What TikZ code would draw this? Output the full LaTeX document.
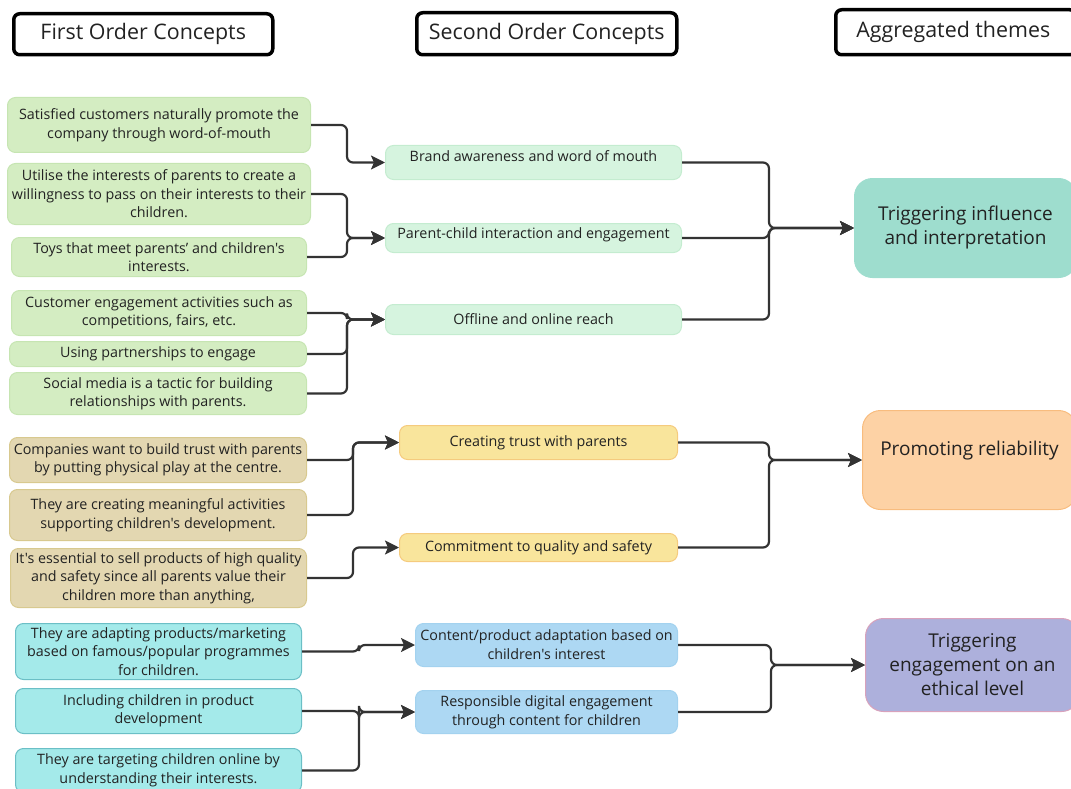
\documentclass[tikz,border=0pt]{standalone}
\usepackage{fontspec}
\setmainfont{Open Sans}[Ligatures=TeXOff]
\usetikzlibrary{arrows.meta}
\definecolor{txt}{HTML}{222222}
\definecolor{lc}{HTML}{333333}
\definecolor{gF}{HTML}{D4EDC2}\definecolor{gD}{HTML}{C6E5B2}
\definecolor{mF}{HTML}{D6F4DF}\definecolor{mD}{HTML}{C4ECD0}
\definecolor{t1F}{HTML}{9EDDCE}\definecolor{t1D}{HTML}{9EDDCE}
\definecolor{tnF}{HTML}{E3D7B1}\definecolor{tnD}{HTML}{D8C98F}
\definecolor{yF}{HTML}{F9E59C}\definecolor{yD}{HTML}{F5CB7E}
\definecolor{t2F}{HTML}{FDD2A5}\definecolor{t2D}{HTML}{F8BC7E}
\definecolor{cF}{HTML}{A4EAEA}\definecolor{cD}{HTML}{6BBFC6}
\definecolor{bF}{HTML}{ADD8F3}\definecolor{bD}{HTML}{A3D2EF}
\definecolor{t3F}{HTML}{ADB0DC}\definecolor{t3D}{HTML}{D8A2BC}
\tikzset{
  bx/.style={rounded corners=8pt, align=center, inner sep=0pt, anchor=north west,
    text=txt, line width=1pt, font=\fontsize{14.3}{18.5}\selectfont},
  fo/.style={bx, fill=gF, draw=gD},
  so/.style={bx, fill=mF, draw=mD},
  tn/.style={bx, fill=tnF, draw=tnD},
  yo/.style={bx, fill=yF, draw=yD},
  cy/.style={bx, fill=cF, draw=cD},
  bl/.style={bx, fill=bF, draw=bD, font=\fontsize{14.3}{19}\selectfont},
  th/.style={bx, rounded corners=18pt, font=\fontsize{19}{24}\selectfont},
  hd/.style={rounded corners=6pt, draw=black, fill=white, line width=3.5pt,
    anchor=north west, inner sep=0pt, text=txt, font=\fontsize{21.4}{25}\selectfont},
  conn/.style={draw=lc, line width=2.2pt, rounded corners=6pt,
    -{Stealth[length=14pt,width=14pt,inset=3pt]}}
}
\begin{document}
\begin{tikzpicture}[x=1pt,y=-1pt]
\useasboundingbox (0,0) rectangle (1071,789);
% headers
\node[hd, minimum width=259, minimum height=41] (h1) at (12,12) {First Order Concepts};
\node[hd, minimum width=260, minimum height=42] (h2) at (415,11) {Second Order Concepts};
\node[hd, minimum width=240, minimum height=45] (h3) at (834,8) {\hspace*{-5pt}Aggregated themes};
% group 1
\node[fo, minimum width=303, minimum height=55] (f1) at (7,97) {Satisfied customers naturally promote the\\company through word-of-mouth};
\node[fo, minimum width=303, minimum height=61] (f2) at (7,163) {Utilise the interests of parents to create a\\willingness to pass on their interests to their\\children.};
\node[fo, minimum width=295, minimum height=39] (f3) at (11,237) {Toys that meet parents’ and children's\\interests.};
\node[fo, minimum width=295, minimum height=45] (f4) at (11,290) {Customer engagement activities such as\\competitions, fairs, etc.};
\node[fo, minimum width=297, minimum height=25] (f5) at (9,341) {Using partnerships to engage};
\node[fo, minimum width=297, minimum height=42] (f6) at (9,372) {Social media is a tactic for building\\relationships with parents.};
\node[so, minimum width=296, minimum height=34, text height=10.5pt, text depth=13.5pt] (s1) at (385,145) {Brand awareness and word of mouth};
\node[so, minimum width=296, minimum height=29, text height=10.5pt, text depth=9.5pt] (s2) at (385,223) {Parent-child interaction and engagement};
\node[so, minimum width=296, minimum height=30] (s3) at (385,304) {Offline and online reach};
\node[th, fill=t1F, draw=t1D, minimum width=222, minimum height=99] (t1) at (854,178) {Triggering influence\\and interpretation};
% group 2
\node[tn, minimum width=297, minimum height=45] (c1) at (9,437) {Companies want to build trust with parents\\by putting physical play at the centre.};
\node[tn, minimum width=297, minimum height=51] (c2) at (9,489) {They are creating meaningful activities\\supporting children's development.};
\node[tn, minimum width=296, minimum height=59] (c3) at (10,548) {It's essential to sell products of high quality\\and safety since all parents value their\\children more than anything,};
\node[yo, minimum width=278, minimum height=34] (y1) at (399,425) {Creating trust with parents};
\node[yo, minimum width=278, minimum height=28] (y2) at (399,533) {Commitment to quality and safety};
\node[th, fill=t2F, draw=t2D, minimum width=214, minimum height=99] (t2) at (862,410) {Promoting reliability\\[-1pt]\mbox{}};
% group 3
\node[cy, minimum width=286, minimum height=56] (b1) at (15,623) {They are adapting products/marketing\\based on famous/popular programmes\\for children.};
\node[cy, minimum width=286, minimum height=45] (b2) at (15,688) {Including children in product\\development};
\node[cy, minimum width=286, minimum height=44] (b3) at (15,748) {They are targeting children online by\\understanding their interests.};
\node[bl, minimum width=262, minimum height=43] (d1) at (415,623) {Content/product adaptation based on\\children's interest};
\node[bl, minimum width=262, minimum height=43] (d2) at (415,690) {Responsible digital engagement\\through content for children};
\node[th, fill=t3F, draw=t3D, minimum width=214, minimum height=93] (t3) at (865,618) {Triggering\\engagement on an\\ethical level};
% connectors group 1
\draw[conn] (f1.east) -- ++(36,0) |- (s1.west);
\draw[conn] (f2.east) -- ++(36,0) |- (s2.west);
\draw[conn] (f3.east) -- ++(40,0) |- (s2.west);
\draw[conn] (f4.east) -- ++(40,0) |- (s3.west);
\draw[conn] (f5.east) -- ++(40,0) |- (s3.west);
\draw[conn] (f6.east) -- ++(40,0) |- (s3.west);
\draw[conn] (s1.east) -- ++(87,0) |- (t1.west);
\draw[conn] (s2.east) -- ++(87,0) |- (t1.west);
\draw[conn] (s3.east) -- ++(87,0) |- (t1.west);
% connectors group 2
\draw[conn] (c1.east) -- ++(46,0) |- (y1.west);
\draw[conn] (c2.east) -- ++(46,0) |- (y1.west);
\draw[conn] (c3.east) -- ++(46,0) |- (y2.west);
\draw[conn] (y1.east) -- ++(91,0) |- (t2.west);
\draw[conn] (y2.east) -- ++(91,0) |- (t2.west);
% connectors group 3
\draw[conn] (b1.east) -- ++(57,0) |- (d1.west);
\draw[conn] (b2.east) -- ++(57,0) |- (d2.west);
\draw[conn] (b3.east) -- ++(57,0) |- (d2.west);
\draw[conn] (d1.east) -- ++(93,0) |- (t3.west);
\draw[conn] (d2.east) -- ++(93,0) |- (t3.west);
\end{tikzpicture}
\end{document}
